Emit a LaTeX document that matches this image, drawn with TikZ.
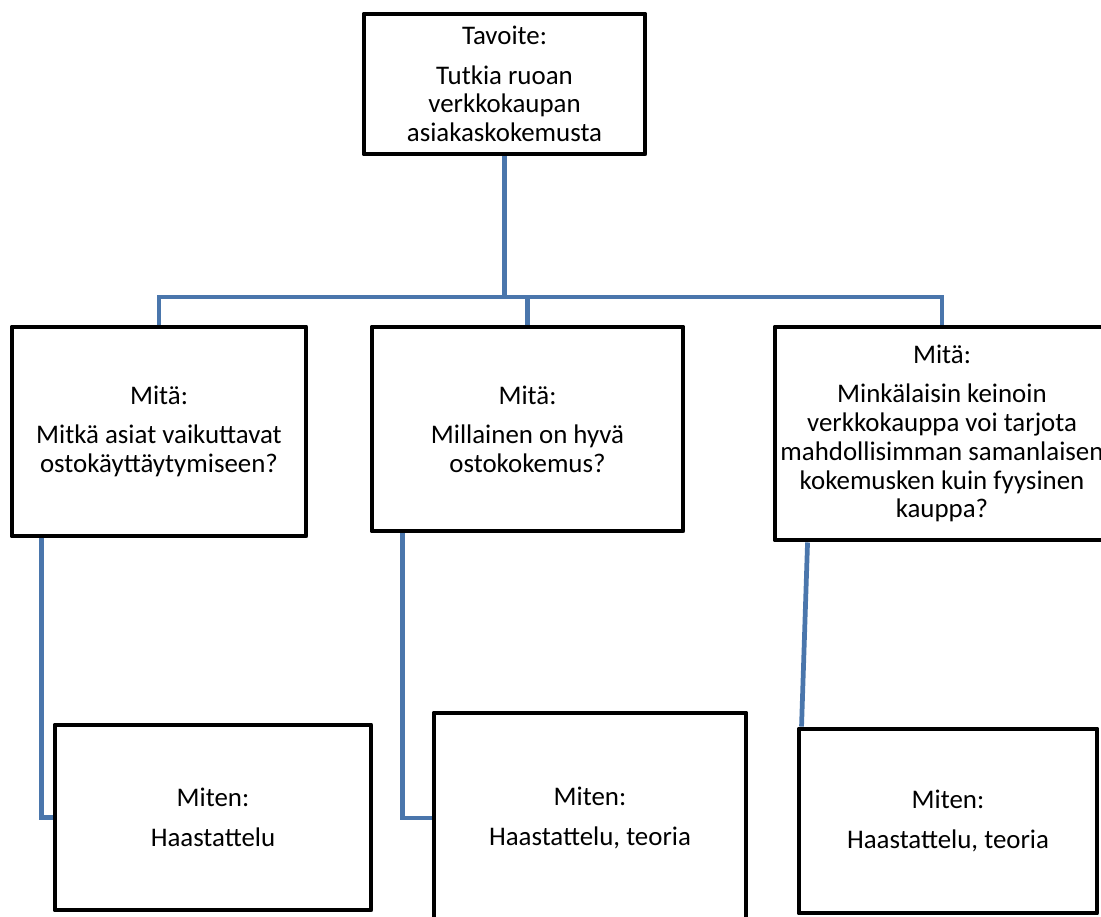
\documentclass[tikz,border=0pt]{standalone}
\usepackage{fontspec}
\setmainfont{Carlito}
\usetikzlibrary{backgrounds}

\definecolor{linkblue}{HTML}{4A76AC}

\tikzset{
  box/.style = {draw=black, fill=white, line width=2.8pt, line join=round,
                align=center, inner sep=0pt},
  link/.style = {draw=linkblue, line width=2.7pt},
}

\begin{document}
\begin{tikzpicture}[nodes = {font=\fontsize{15.3}{16.4}\selectfont}]
\useasboundingbox (0,0) rectangle (22.02,-18.32);
\clip (0,0) rectangle (22.02,-18.32);
% goal on top
\node[box, minimum width=5.62cm, minimum height=2.8cm] (tav) at (10.09,-1.68)
  {Tavoite:\\[6pt] Tutkia ruoan\\ verkkokaupan\\ asiakaskokemusta};
% what
\node[box, minimum width=5.88cm, minimum height=4.18cm] (mita1) at (3.18,-8.63)
  {Mitä:\\[6pt] Mitkä asiat vaikuttavat\\ ostokäyttäytymiseen?};
\node[box, minimum width=6.22cm, minimum height=4.08cm] (mita2) at (10.55,-8.58)
  {Mitä:\\[6pt] Millainen on hyvä\\ ostokokemus?};
\node[box, minimum width=6.68cm, minimum height=4.26cm] (mita3) at (18.84,-8.67)
  {Mitä:\\[6pt] Minkälaisin keinoin\\ verkkokauppa voi tarjota\\
   mahdollisimman samanlaisen\\ kokemusken kuin fyysinen\\ kauppa?};
% how
\node[box, minimum width=6.32cm, minimum height=3.7cm] (miten1) at (4.26,-16.35)
  {Miten:\\[6pt] Haastattelu};
\node[box, minimum width=6.24cm, minimum height=4.2cm] (miten2) at (11.8,-16.36)
  {Miten:\\[6pt] Haastattelu, teoria};
\node[box, minimum width=5.96cm, minimum height=3.68cm] (miten3) at (18.96,-16.42)
  {Miten:\\[6pt] Haastattelu, teoria};

\begin{scope}[on background layer]
  \coordinate (bar) at (0,-5.94);   % height of the cross bar
  \draw[link] (tav.south) -- (tav.south |- bar);
  \draw[link] (mita1.north) -- (mita1.north |- bar) -- (mita3.north |- bar)
    -- (mita3.north);
  \draw[link] (mita2.north) -- (mita2.north |- bar);
  \draw[link] (mita1.south west) ++(0.64,0) |- (miten1.west);
  \draw[link] (mita2.south west) ++(0.66,0) |- (miten2.west);
  \draw[link] (mita3.south west) ++(0.7,0) -- ([xshift=0.1cm]miten3.north west);
\end{scope}
\end{tikzpicture}
\end{document}
